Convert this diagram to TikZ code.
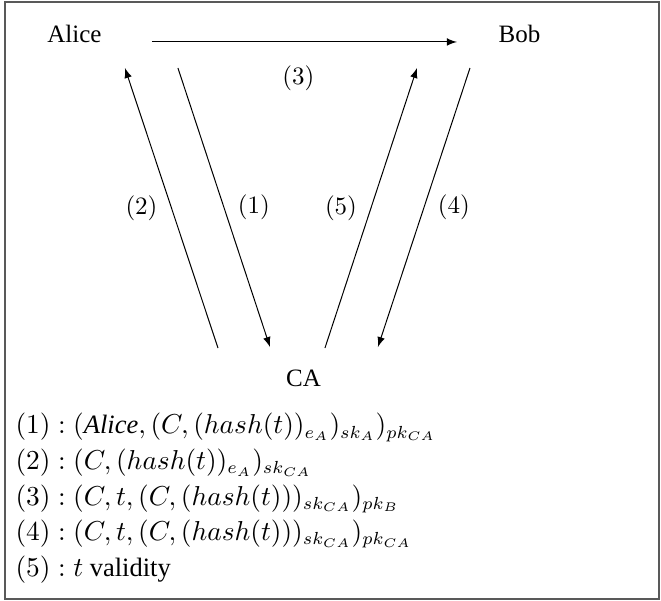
\documentclass[tikz,border=0pt]{standalone}
\usepackage{fontspec}
\setmainfont{Liberation Serif}
\usetikzlibrary{positioning,arrows,calc}
\tikzset{>=latex,
every edge/.style={draw,->},
party/.style={inner sep=1mm},
el/.style={inner sep=1.9mm},
msg/.style={inner sep=0pt,anchor=base west,font=\fontsize{10.6pt}{13pt}\selectfont},
}

\begin{document}
\begin{tikzpicture}
	\useasboundingbox (0,0) rectangle (9.294,-8.450);
	\draw[gray!70!black,line width=0.6pt] (0.070,-0.028) rectangle (9.266,-8.422);

	\node[party] (alice) at (1.047,-0.478) {Alice};
	\node[party] (bob) at (7.304,-0.478) {Bob};
	\node[party] (ca) at (4.267,-5.315) {CA};

	\path
	($(alice)+(1.090,-0.112)$) edge node[el,below,pos=0.48,yshift=-1.4mm] {$(3)$} ($(bob)+(-0.879,-0.112)$)
	($(alice)+(1.455,-0.478)$) edge node[el,right] {$(1)$} ($(ca)+(-0.471,0.436)$)
	($(ca)+(-1.202,0.422)$) edge node[el,left] {$(2)$} ($(alice)+(0.710,-0.478)$)
	($(ca)+(0.302,0.422)$) edge node[el,left] {$(5)$} ($(bob)+(-1.441,-0.478)$)
	($(bob)+(-0.696,-0.478)$) edge node[el,right] {$(4)$} ($(ca)+(1.047,0.436)$)
	;

	\node[msg] (m1) at (0.211,-6.102) {$(1):(\textit{Alice},(C,(hash(t))_{e_A})_{sk_A})_{pk_{CA}}$};
	\node[msg,below=5mm of m1.base west,anchor=base west] (m2) {$(2):(C,(hash(t))_{e_A})_{sk_{CA}}$};
	\node[msg,below=5mm of m2.base west,anchor=base west] (m3) {$(3):(C,t,(C,(hash(t)))_{sk_{CA}})_{pk_B}$};
	\node[msg,below=5mm of m3.base west,anchor=base west] (m4) {$(4):(C,t,(C,(hash(t)))_{sk_{CA}})_{pk_{CA}}$};
	\node[msg,below=5mm of m4.base west,anchor=base west] (m5) {$(5):t$ validity};
\end{tikzpicture}
\end{document}
